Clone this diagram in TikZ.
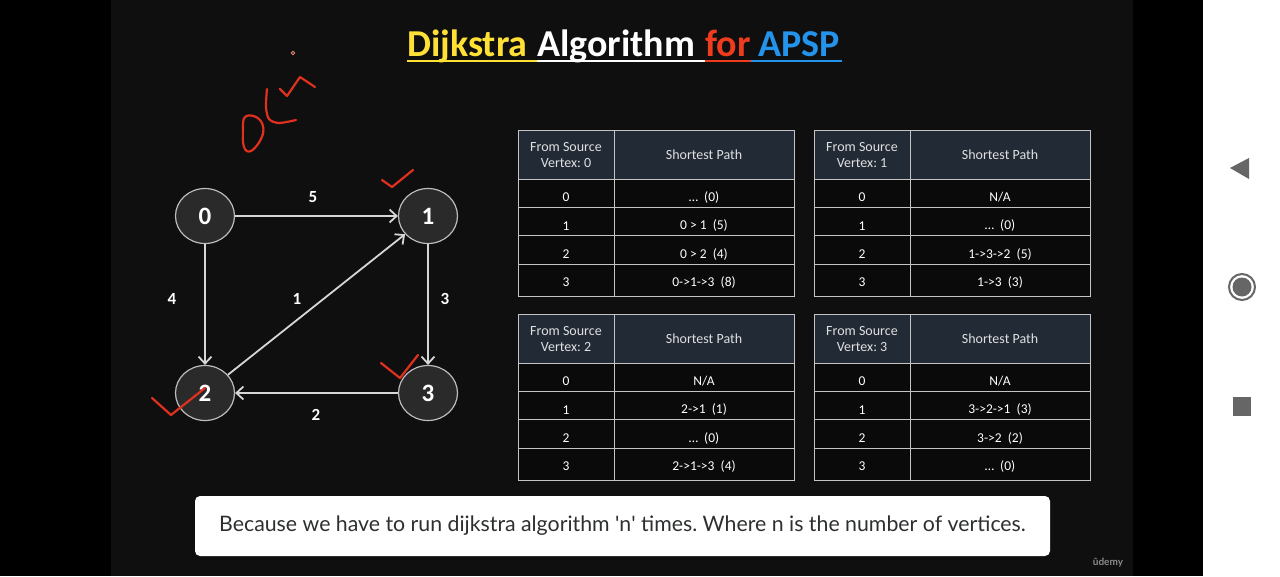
\documentclass[tikz,border=0pt]{standalone}
\usepackage{fontspec}
\setmainfont{Carlito}
\newfontfamily\capfont{Lato}
\usepackage{tikz}
\usetikzlibrary{arrows.meta,shapes.geometric}
\frenchspacing
\definecolor{panel}{HTML}{0F0F0F}
\definecolor{vfill}{HTML}{2A2A2A}
\definecolor{vline}{HTML}{BDBDBD}
\definecolor{eline}{HTML}{D6D6D6}
\definecolor{hdrfill}{HTML}{222A35}
\definecolor{rowfill}{HTML}{0A0A0A}
\definecolor{gridgray}{HTML}{C4C4C4}
\definecolor{ttlyellow}{HTML}{FFE135}
\definecolor{ttlred}{HTML}{F03C1E}
\definecolor{ttlblue}{HTML}{2393EB}
\definecolor{pen}{HTML}{E0301E}
\definecolor{navgray}{HTML}{666666}
\definecolor{captext}{HTML}{2D2F31}

% one "from source" table: x, y of top left, source, four paths
\newcommand{\sptable}[7]{%
 \fill[hdrfill] (#1,#2) rectangle ++(276,49);
 \fill[rowfill] (#1,#2+49) rectangle ++(276,117);
 \draw[gridline] (#1,#2) rectangle ++(276,166);
 \draw[gridline] (#1+96,#2) -- ++(0,166);
 \foreach \k in {0,...,3}{\draw[gridline] (#1,#2+49+28.33*\k) -- ++(276,0);}
 \node[hdr] (src#3) at (#1+48,#2+25) {From Source\\Vertex: #3};
 \node[hdr] (sp#3) at (#1+186,#2+25) {Shortest Path};
 \foreach \k/\dy in {0/67.5,1/95.8,2/124.2,3/152.5}{\node[cell] (s#3v\k) at (#1+48,#2+\dy) {\k};}
 \node[cell] (s#3p0) at (#1+186,#2+67.5) {#4};
 \node[cell] (s#3p1) at (#1+186,#2+95.8) {#5};
 \node[cell] (s#3p2) at (#1+186,#2+124.2) {#6};
 \node[cell] (s#3p3) at (#1+186,#2+152.5) {#7};
}

\begin{document}
\begin{tikzpicture}[x=1pt,y=-1pt,
 vtx/.style={ellipse,draw=vline,fill=vfill,line width=1.2pt,inner sep=0pt,
 minimum width=59pt,minimum height=55pt,text=white,font=\bfseries\fontsize{25}{25}\selectfont},
 edg/.style={draw=eline,line width=1.8pt,-{Straight Barb[length=7pt,width=13pt]}},
 wlbl/.style={text=white,font=\bfseries\fontsize{17}{17}\selectfont},
 ttl/.style={anchor=base west,inner sep=0pt,font=\bfseries\fontsize{38}{38}\selectfont},
 hdr/.style={align=center,text=white!88!black,font=\fontsize{14}{16}\selectfont},
 cell/.style={text=white,font=\fontsize{13.5}{15}\selectfont},
 gridline/.style={draw=gridgray,line width=0.9pt},
 hand/.style={draw=pen,line width=2.2pt,line cap=round,line join=round},
 capbox/.style={fill=white,rounded corners=5pt,minimum width=855pt,minimum height=60pt,
 text=captext,font=\capfont\fontsize{21.3}{24}\selectfont}]
\useasboundingbox (0,0) rectangle (1280,576);
% screen
\fill[black] (0,0) rectangle (1280,576);
\fill[panel] (111,0) rectangle (1133,576);
\fill[white] (1203,0) rectangle (1280,576);

% title
\node[ttl,text=ttlyellow] (tw1) at (407,56) {Dijkstra};
\node[ttl,text=white] (tw2) at (537,56) {Algorithm};
\node[ttl,text=ttlred] (tw3) at (705,56) {for};
\node[ttl,text=ttlblue] (tw4) at (758,56) {APSP};
\draw[ttlyellow,line width=2.4pt] (407,61) -- (537,61);
\draw[white,line width=2.4pt] (537,61) -- (705,61);
\draw[ttlred,line width=2.4pt] (705,61) -- (751,61);
\draw[ttlblue,line width=2.4pt] (751,61) -- (842,61);

% graph
\node[vtx] (0) at (205,216) {0};
\node[vtx] (1) at (428,216) {1};
\node[vtx] (2) at (205,393) {2};
\node[vtx] (3) at (428,393) {3};
\foreach \u/\v in {0/1,0/2,1/3,3/2,2/1}{\draw[edg] (\u)--(\v);}
\node[wlbl] (w01) at (313,197) {5};
\node[wlbl] (w02) at (172,299) {4};
\node[wlbl] (w21) at (297,299) {1};
\node[wlbl] (w13) at (445,299) {3};
\node[wlbl] (w32) at (316,415) {2};

% tables
\sptable{518}{130}{0}{…~ (0)}{0 > 1~ (5)}{0 > 2~ (4)}{0->1->3~ (8)}
\sptable{814}{130}{1}{N/A}{…~ (0)}{1->3->2~ (5)}{1->3~ (3)}
\sptable{518}{314}{2}{N/A}{2->1~ (1)}{…~ (0)}{2->1->3~ (4)}
\sptable{814}{314}{3}{N/A}{3->2->1~ (3)}{3->2~ (2)}{…~ (0)}

% pen marks
\draw[hand] plot[smooth cycle,tension=0.7] coordinates {(245,117) (243,130) (244,147) (251,151) (261,139) (263,126) (256,117)};
\draw[hand] plot[smooth,tension=0.5] coordinates {(267,89) (266,107) (269,119) (279,123) (296,120)};
\draw[hand] plot[tension=0.4] coordinates {(280,89) (287,96) (300,77) (315,87)};
\draw[pen!60!white,line width=0.8pt] (293,53) circle (1.8);
\draw[hand] (382,180) -- (392,187) -- (413,170);
\draw[hand] (381,363) -- (400,378) -- (418,355);
\draw[hand] (152,398) -- (171,415) -- (205,388);

% caption and logo
\node[capbox] (cap) at (622.5,526) {Because we have to run dijkstra algorithm \textquotesingle n\textquotesingle{} times. Where n is the number of vertices.};
\node[text=white!55!black,font=\capfont\bfseries\fontsize{10}{10}\selectfont] (logo) at (1108,563) {ûdemy};

% navigation bar
\fill[navgray] (1230,168) -- (1249,158) -- (1249,179) -- cycle;
\draw[navgray,line width=2pt] (1242,287) circle (13);
\fill[navgray] (1242,287) circle (9.5);
\fill[navgray] (1233,397) rectangle (1251,416);
\end{tikzpicture}
\end{document}
